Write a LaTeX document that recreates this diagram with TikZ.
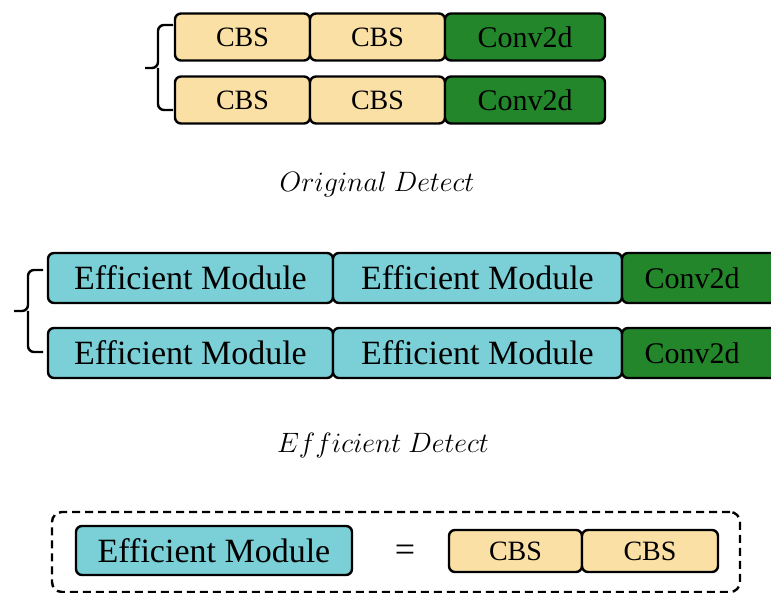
\RequirePackage{fix-cm}
\documentclass[tikz,border=0pt]{standalone}
\usepackage{fontspec}
\setmainfont{Liberation Serif}
\definecolor{cbsfill}{HTML}{FBE0A6}
\definecolor{convfill}{HTML}{24862A}
\definecolor{effill}{HTML}{7BCFD6}
\tikzset{
  blk/.style={draw=black, line width=2.4pt, rounded corners=6pt, inner sep=0pt, anchor=center},
  cbs/.style={blk, fill=cbsfill, minimum height=47pt, font=\fontsize{28}{30}\selectfont},
  conv/.style={blk, fill=convfill, minimum height=47pt, font=\fontsize{30}{32}\selectfont},
  eff/.style={blk, fill=effill, minimum height=50pt, font=\fontsize{34}{36}\selectfont},
  brace/.style={draw=black, line width=2.4pt, rounded corners=6pt},
  caption/.style={font=\fontsize{28}{30}\selectfont}
}
\begin{document}
\begin{tikzpicture}[x=1pt,y=-1pt]
\useasboundingbox (0,0) rectangle (771,593);
% original detect
\node[cbs, minimum width=135pt] (oa1) at (242.5,37) {CBS};
\node[cbs, minimum width=135pt] (ob1) at (377.5,37) {CBS};
\node[conv, minimum width=160pt] (oc1) at (525,37) {Conv2d};
\node[cbs, minimum width=135pt] (oa2) at (242.5,100) {CBS};
\node[cbs, minimum width=135pt] (ob2) at (377.5,100) {CBS};
\node[conv, minimum width=160pt] (oc2) at (525,100) {Conv2d};
\coordinate (otop) at (173,25);
\coordinate (obot) at (173,110);
\coordinate (omid) at (145,68);
\draw[brace] (otop) -- (158,25) -- (158,68) -- (omid);
\draw[brace] (obot) -- (158,110) -- (158,68);
\node[caption] (ocap) at (377,185) {$Original\ Detect$};
% efficient detect
\node[eff, minimum width=285pt] (ea1) at (190.5,278) {Efficient Module};
\node[eff, minimum width=289pt] (eb1) at (477.5,278) {Efficient Module};
\node[conv, minimum width=170pt, minimum height=50pt] (ec1) at (707,278) {\hspace*{-30pt}Conv2d};
\node[eff, minimum width=285pt] (ea2) at (190.5,353) {Efficient Module};
\node[eff, minimum width=289pt] (eb2) at (477.5,353) {Efficient Module};
\node[conv, minimum width=170pt, minimum height=50pt] (ec2) at (707,353) {\hspace*{-30pt}Conv2d};
\coordinate (etop) at (43,270);
\coordinate (ebot) at (43,352);
\coordinate (emid) at (14,311);
\draw[brace] (etop) -- (28,270) -- (28,311) -- (emid);
\draw[brace] (ebot) -- (28,352) -- (28,311);
\node[caption] (ecap) at (383,445) {$Efficient\ Detect$};
% legend
\node[draw=black, line width=2.4pt, dash pattern=on 8pt off 5pt, rounded corners=10pt,
  minimum width=688pt, minimum height=80pt] (frame) at (396,552) {};
\node[eff, minimum width=276pt, minimum height=49pt] (em) at (214,550.5) {Efficient Module};
\node[font=\fontsize{36}{38}\selectfont] (eq) at (405,553) {=};
\node[cbs, minimum width=133pt, minimum height=42pt] (lc1) at (515.5,551) {CBS};
\node[cbs, minimum width=136pt, minimum height=42pt] (lc2) at (650,551) {CBS};
\end{tikzpicture}
\end{document}
